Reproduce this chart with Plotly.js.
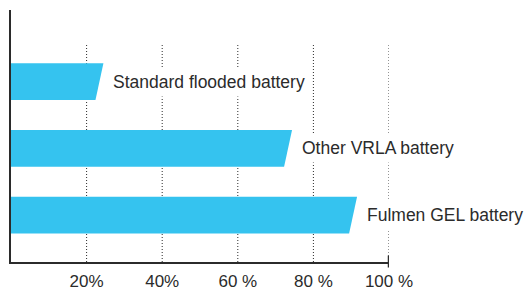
<!DOCTYPE html>
<html>
<head>
<meta charset="utf-8">
<script src="https://cdn.plot.ly/plotly-3.0.1.min.js"></script>
<style>html,body{margin:0;padding:0;background:#fff;}#chart{width:525px;height:292px;}</style>
</head>
<body>
<div id="chart"></div>
<script>
// Data (top to bottom)
var categories = ["Standard flooded battery", "Other VRLA battery", "Fulmen GEL battery"];
var values = [23.4, 73.3, 90.5];           // percent, measured at bar mid-height
var tickValues = [20, 40, 60, 80, 100];
var tickLabels = ["20%", "40%", "60 %", "80 %", "100 %"];

// Styles
var barColor = "#35c3ef";
var textColor = "#2b2b2b";
var slant = 1.05;      // half of the slanted end offset, in axis units
var halfH = 0.275;     // half bar thickness, in category units
var fontFam = "Liberation Sans, Arial, Helvetica, sans-serif";

var n = categories.length;
var traces = [];
var annotations = [];
categories.forEach(function (cat, i) {
  var c = n - 1 - i;
  var v = values[i];
  traces.push({
    type: "scatter", mode: "lines", fill: "toself",
    x: [0, v + slant, v - slant, 0, 0],
    y: [c + halfH, c + halfH, c - halfH, c - halfH, c + halfH],
    fillcolor: barColor, line: {width: 0, color: barColor},
    hoverinfo: "skip", showlegend: false, name: cat
  });
  annotations.push({
    x: v + slant, y: c, xref: "x", yref: "y",
    text: cat, showarrow: false, xanchor: "left", yanchor: "middle",
    xshift: 5, bgcolor: "#ffffff", borderpad: 4,
    font: {family: fontFam, size: 17.5, color: textColor}
  });
});

var shapes = tickValues.map(function (t) {
  return {type: "line", xref: "x", yref: "paper", x0: t, x1: t, y0: 0, y1: 0.861,
          layer: "below", line: {color: textColor, width: 1, dash: "1px,2px"}};
});
shapes.push({type: "line", xref: "x", yref: "paper", x0: 100, x1: 100, y0: -0.022, y1: 0.026,
             line: {color: textColor, width: 2.5}});

var layout = {
  width: 525, height: 292,
  margin: {l: 11, r: 136, t: 10, b: 30},
  paper_bgcolor: "#ffffff", plot_bgcolor: "#ffffff",
  font: {family: fontFam, color: textColor},
  xaxis: {
    range: [0, 100], showgrid: false, zeroline: false,
    showline: true, linecolor: textColor, linewidth: 2,
    tickmode: "array", tickvals: tickValues, ticktext: tickLabels,
    ticks: "", ticklabelstandoff: 3,
    tickfont: {family: fontFam, size: 17, color: textColor}, fixedrange: true
  },
  yaxis: {
    range: [-0.70, 3.07], showgrid: false, zeroline: false,
    showline: true, linecolor: textColor, linewidth: 2,
    showticklabels: false, ticks: "", fixedrange: true
  },
  shapes: shapes,
  annotations: annotations,
  showlegend: false
};

Plotly.newPlot("chart", traces, layout, {displayModeBar: false, staticPlot: true});
</script>
</body>
</html>
